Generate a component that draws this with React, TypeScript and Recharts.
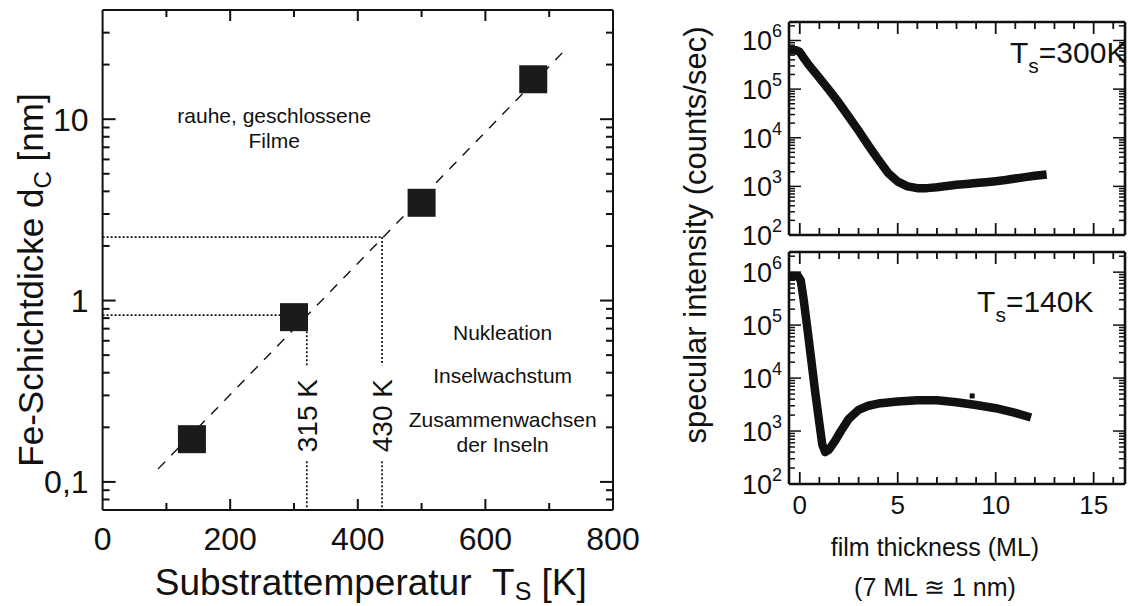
import React from 'react';
import {
  ComposedChart,
  ScatterChart,
  Scatter,
  Line,
  XAxis,
  YAxis,
  ReferenceLine,
  Label,
} from 'recharts';

const FONT = '"Liberation Sans", Arial, Helvetica, sans-serif';
const INK = '#111111';

// ---------------- left panel: critical thickness vs substrate temperature ----------------
const substrateTempK = [140, 300, 500, 675];
const criticalThicknessNm = [0.172, 0.81, 3.46, 16.6];
const fitLineTempK = [87, 723];
const fitLineThicknessNm = [0.118, 23.7];
const guideTempK = [320, 438];
const guideThicknessNm = [0.83, 2.24];
const guideLabels = ['315 K', '430 K'];
const guideLabelThickness = 0.232;
const guideGapTop = 0.44;
const guideGapBottom = 0.13;

const leftXTicks = [0, 100, 200, 300, 400, 500, 600, 700, 800];
const leftXTickLabels = ['0', '', '200', '', '400', '', '600', '', '800'];
const leftYTicks = [0.08, 0.09, 0.1, 0.2, 0.3, 0.4, 0.5, 0.6, 0.7, 0.8, 0.9, 1, 2, 3, 4, 5, 6, 7, 8, 9, 10, 20, 30];
const leftYMajor = [0.1, 1, 10];
const leftYMajorLabels = ['0,1', '1', '10'];

const regionTexts = ['rauhe, geschlossene', 'Filme', 'Nukleation', 'Inselwachstum', 'Zusammenwachsen', 'der Inseln'];
const regionTempK = [269, 269, 627, 627, 627, 627];
const regionThickness = [10.5, 7.6, 0.67, 0.386, 0.222, 0.161];

// ---------------- right panels: specular intensity vs film thickness ----------------
const thickness300 = [-0.5, -0.2, 0, 0.25, 0.5, 1, 1.5, 2, 2.5, 3, 3.5, 4, 4.5, 5, 5.5, 6, 6.5, 7, 7.5, 8, 8.5, 9, 9.5, 10, 10.5, 11, 11.5, 12, 12.6];
const intensity300 = [6.3e5, 6.3e5, 5.8e5, 4.1e5, 3.0e5, 1.7e5, 9.5e4, 5.2e4, 2.7e4, 1.4e4, 7.0e3, 3.6e3, 1.9e3, 1.25e3, 1.0e3, 9.2e2, 9.2e2, 9.6e2, 1.02e3, 1.08e3, 1.12e3, 1.17e3, 1.22e3, 1.28e3, 1.35e3, 1.45e3, 1.55e3, 1.65e3, 1.75e3];
const thickness140 = [-0.5, -0.1, 0.05, 0.2, 0.4, 0.6, 0.8, 1.0, 1.15, 1.3, 1.5, 1.8, 2.1, 2.5, 3, 3.5, 4, 5, 6, 7, 8, 9, 10, 11, 11.8];
const intensity140 = [8.5e5, 8.5e5, 7e5, 3.0e5, 8e4, 2e4, 5e3, 1.4e3, 5.5e2, 4.0e2, 4.5e2, 6.5e2, 1.0e3, 1.7e3, 2.5e3, 3.0e3, 3.3e3, 3.6e3, 3.8e3, 3.8e3, 3.5e3, 3.1e3, 2.7e3, 2.2e3, 1.8e3];
const outlierThickness140 = [8.8];
const outlierIntensity140 = [4.6e3];

const rightXTicks = [0, 1, 2, 3, 4, 5, 6, 7, 8, 9, 10, 11, 12, 13, 14, 15, 16];
const rightXLabelTicks = [0, 5, 10, 15];
const rightDecades = [100, 1000, 10000, 100000, 1000000];
const rightMantissas = [2, 3, 4, 5, 6, 7, 8, 9];
const rightYTicks = [
  ...rightDecades.flatMap((d) => (d < 1000000 ? [d, ...rightMantissas.map((m) => m * d)] : [d, 2 * d])),
];
const rightYDomain = [100, 2.4e6];
const rightYTitle = 'specular intensity (counts/sec)';
const panelTitles = ['300K', '140K'];
const panelTitleThickness = [10.73, 9.05];
const panelTitleIntensity = [3.5e5, 1.78e5];

const leftPoints = substrateTempK.map((x, i) => ({ x, y: criticalThicknessNm[i] }));
const leftNotes = regionTexts.map((t, i) => ({ x: regionTempK[i], y: regionThickness[i], t }));
const guideNotes = guideLabels.map((t, i) => ({ x: guideTempK[i], y: guideLabelThickness, t }));
const data300 = thickness300.map((x, i) => ({ x, y: intensity300[i] }));
const data140 = thickness140.map((x, i) => ({ x, y: intensity140[i] }));
const outliers140 = outlierThickness140.map((x, i) => ({ x, y: outlierIntensity140[i] }));
const title300 = [{ x: panelTitleThickness[0], y: panelTitleIntensity[0], t: panelTitles[0] }];
const title140 = [{ x: panelTitleThickness[1], y: panelTitleIntensity[1], t: panelTitles[1] }];

// ---------------- helpers ----------------
const isDecade = (v: number) => Math.abs(Math.log10(v) - Math.round(Math.log10(v))) < 1e-9;

type Side = 'bottom' | 'top' | 'left' | 'right';
function makeTick(side: Side, len: (v: number) => number, width: number, label?: (v: number, x: number, y: number) => React.ReactNode) {
  return function Tick(props: any) {
    const x = Number(props.x);
    const y = Number(props.y);
    const v = Number(props.payload.value);
    const L = len(v);
    let x2 = x;
    let y2 = y;
    if (side === 'bottom') y2 = y - L;
    else if (side === 'top') y2 = y + L;
    else if (side === 'left') x2 = x + L;
    else x2 = x - L;
    return (
      <g>
        {L > 0 ? <path d={`M${x},${y}L${x2},${y2}`} stroke={INK} strokeWidth={width} fill="none" /> : null}
        {label ? label(v, x, y) : null}
      </g>
    );
  };
}

const leftXLen = (v: number) => (v <= 0 || v >= 800 ? 0 : v % 200 === 0 ? 11 : 7);
const leftYLen = (v: number) => (isDecade(v) ? 13 : 7);
const leftXLabel = (v: number, x: number, y: number) => {
  const i = leftXTicks.indexOf(v);
  const s = i >= 0 ? leftXTickLabels[i] : '';
  return s ? (
    <text x={x} y={y + 40} textAnchor="middle" fontSize={32} fontFamily={FONT} fill={INK}>
      {s}
    </text>
  ) : null;
};
const leftYLabel = (v: number, x: number, y: number) => {
  const i = leftYMajor.findIndex((m) => Math.abs(m - v) < 1e-9);
  return i >= 0 ? (
    <text x={x - 14} y={y + 11.5} textAnchor="end" fontSize={32} fontFamily={FONT} fill={INK}>
      {leftYMajorLabels[i]}
    </text>
  ) : null;
};

const rightXLen = (v: number) => (v % 5 === 0 ? 12 : 7);
const rightYLen = (v: number) => (isDecade(v) ? (v <= 100 ? 0 : 12) : 6);
const rightYLabel = (v: number, x: number, y: number) =>
  isDecade(v) ? (
    <text x={x - 7} y={y + 10} textAnchor="end" fontSize={27} fontFamily={FONT} fill={INK}>
      10
      <tspan dy={-13} fontSize={18}>
        {String(Math.round(Math.log10(v)))}
      </tspan>
    </text>
  ) : null;
const rightXLabel = (v: number, x: number, y: number) =>
  rightXLabelTicks.includes(v) ? (
    <text x={x} y={y + 30} textAnchor="middle" fontSize={26} fontFamily={FONT} fill={INK}>
      {String(v)}
    </text>
  ) : null;

const squareShape = (p: any) => <rect x={p.cx - 14} y={p.cy - 14} width={28} height={28} fill="#1b1b1b" />;
const noteShape = (fontSize: number) => (p: any) => (
  <text x={p.cx} y={p.cy + fontSize * 0.36} textAnchor="middle" fontSize={fontSize} fontFamily={FONT} fill={INK}>
    {p.payload.t}
  </text>
);
const rotatedShape = (p: any) => (
  <text
    x={p.cx + 10}
    y={p.cy}
    transform={`rotate(-90, ${p.cx + 10}, ${p.cy})`}
    textAnchor="middle"
    fontSize={28}
    fontFamily={FONT}
    fill={INK}
  >
    {p.payload.t}
  </text>
);
const panelTitleShape = (p: any) => (
  <text x={p.cx} y={p.cy} textAnchor="start" fontSize={30} fontFamily={FONT} fill={INK}>
    T
    <tspan dy={10} fontSize={21}>
      s
    </tspan>
    <tspan dy={-10}>{'=' + p.payload.t}</tspan>
  </text>
);
const outlierShape = (p: any) => <rect x={p.cx - 2.5} y={p.cy - 2.5} width={5} height={5} fill={INK} />;

const LeftXTitle = (props: any) => {
  const vb = props.viewBox || { x: 102.6, y: 510, width: 510, height: 96 };
  return (
    <text x={vb.x + vb.width / 2 + 13} y={595} textAnchor="middle" fontSize={37} fontFamily={FONT} fill={INK}>
      {'Substrattemperatur\u00a0\u00a0T'}
      <tspan dy={5} fontSize={25}>
        S
      </tspan>
      <tspan dy={-5}>{'\u00a0[K]'}</tspan>
    </text>
  );
};
const LeftYTitle = (props: any) => {
  const vb = props.viewBox || { x: 0, y: 10, width: 102.6, height: 500 };
  const cx = 43;
  const cy = vb.y + vb.height / 2 + 20;
  return (
    <text x={cx} y={cy} transform={`rotate(-90, ${cx}, ${cy})`} textAnchor="middle" fontSize={35} fontFamily={FONT} fill={INK}>
      {'Fe-Schichtdicke d'}
      <tspan dy={8} fontSize={24}>
        C
      </tspan>
      <tspan dy={-8}>{'\u00a0[nm]'}</tspan>
    </text>
  );
};
const RightXTitle = (props: any) => {
  const vb = props.viewBox || { x: 109, y: 484, width: 336, height: 122 };
  const cx = vb.x + 146;
  return (
    <g>
      <text x={cx} y={vb.y + 72} textAnchor="middle" fontSize={25} fontFamily={FONT} fill={INK}>
        film thickness (ML)
      </text>
      <text x={cx} y={vb.y + 112} textAnchor="middle" fontSize={25} fontFamily={FONT} fill={INK}>
        {'(7 ML \u224A 1 nm)'}
      </text>
    </g>
  );
};

const frameL = { stroke: INK, strokeWidth: 2 };
const frameR = { stroke: INK, strokeWidth: 2.6 };

function LeftChart() {
  return (
    <ScatterChart width={640} height={606} margin={{ top: 9, right: 26, bottom: 0, left: 0 }}>
      <XAxis
        xAxisId="b"
        type="number"
        dataKey="x"
        domain={[0, 800]}
        ticks={leftXTicks}
        interval={0}
        orientation="bottom"
        height={96}
        tickSize={0}
        tickMargin={0}
        allowDataOverflow
        axisLine={frameL}
        tick={makeTick('bottom', leftXLen, 2, leftXLabel)}
      >
        <Label content={LeftXTitle} />
      </XAxis>
      <XAxis
        xAxisId="t"
        type="number"
        dataKey="x"
        domain={[0, 800]}
        ticks={leftXTicks}
        interval={0}
        orientation="top"
        height={1}
        tickSize={0}
        tickMargin={0}
        allowDataOverflow
        axisLine={frameL}
        tick={makeTick('top', leftXLen, 2)}
      />
      <YAxis
        yAxisId="l"
        type="number"
        dataKey="y"
        scale="log"
        domain={[0.07, 40]}
        ticks={leftYTicks}
        interval={0}
        width={102.6}
        tickSize={0}
        tickMargin={0}
        allowDataOverflow
        axisLine={frameL}
        tick={makeTick('left', leftYLen, 2, leftYLabel)}
      >
        <Label content={LeftYTitle} />
      </YAxis>
      <YAxis
        yAxisId="r"
        orientation="right"
        type="number"
        dataKey="y"
        scale="log"
        domain={[0.07, 40]}
        ticks={leftYTicks}
        interval={0}
        width={1}
        tickSize={0}
        tickMargin={0}
        allowDataOverflow
        axisLine={frameL}
        tick={makeTick('right', leftYLen, 2)}
      />
      <ReferenceLine
        xAxisId="b"
        yAxisId="l"
        segment={[
          { x: fitLineTempK[0], y: fitLineThicknessNm[0] },
          { x: fitLineTempK[1], y: fitLineThicknessNm[1] },
        ]}
        stroke={INK}
        strokeWidth={1.4}
        strokeDasharray="10 9"
      />
      {guideTempK.map((gx, i) => (
        <ReferenceLine
          key={'h' + i}
          xAxisId="b"
          yAxisId="l"
          segment={[
            { x: 0, y: guideThicknessNm[i] },
            { x: gx, y: guideThicknessNm[i] },
          ]}
          stroke={INK}
          strokeWidth={1.7}
          strokeDasharray="2 2"
        />
      ))}
      {guideTempK.map((gx, i) => (
        <ReferenceLine
          key={'v1' + i}
          xAxisId="b"
          yAxisId="l"
          segment={[
            { x: gx, y: guideThicknessNm[i] },
            { x: gx, y: guideGapTop },
          ]}
          stroke={INK}
          strokeWidth={1.7}
          strokeDasharray="2 2"
        />
      ))}
      {guideTempK.map((gx, i) => (
        <ReferenceLine
          key={'v2' + i}
          xAxisId="b"
          yAxisId="l"
          segment={[
            { x: gx, y: guideGapBottom },
            { x: gx, y: 0.07 },
          ]}
          stroke={INK}
          strokeWidth={1.7}
          strokeDasharray="2 2"
        />
      ))}
      <Scatter xAxisId="b" yAxisId="l" data={leftPoints} shape={squareShape} isAnimationActive={false} />
      <Scatter xAxisId="b" yAxisId="l" data={leftNotes} shape={noteShape(21)} isAnimationActive={false} />
      <Scatter xAxisId="b" yAxisId="l" data={guideNotes} shape={rotatedShape} isAnimationActive={false} />
    </ScatterChart>
  );
}

function RightPanel(props: { data: any[]; top: number; bottomMargin: number; xHeight: number; lower: boolean; title: any[] }) {
  const { data, top, bottomMargin, xHeight, lower, title } = props;
  return (
    <ComposedChart width={448} height={606} data={data} margin={{ top, right: 2, bottom: bottomMargin, left: 0 }}>
      <XAxis
        xAxisId="b"
        type="number"
        dataKey="x"
        domain={[-0.55, 16.6]}
        ticks={rightXTicks}
        interval={0}
        orientation="bottom"
        height={xHeight}
        tickSize={0}
        tickMargin={0}
        allowDataOverflow
        axisLine={frameR}
        tick={makeTick('bottom', rightXLen, 1.8, lower ? rightXLabel : undefined)}
      >
        {lower ? <Label content={RightXTitle} /> : null}
      </XAxis>
      <XAxis
        xAxisId="t"
        type="number"
        dataKey="x"
        domain={[-0.55, 16.6]}
        ticks={rightXTicks}
        interval={0}
        orientation="top"
        height={1}
        tickSize={0}
        tickMargin={0}
        allowDataOverflow
        axisLine={frameR}
        tick={makeTick('top', rightXLen, 1.8)}
      />
      <YAxis
        yAxisId="l"
        type="number"
        dataKey="y"
        scale="log"
        domain={rightYDomain}
        ticks={rightYTicks}
        interval={0}
        width={109}
        tickSize={0}
        tickMargin={0}
        allowDataOverflow
        axisLine={frameR}
        tick={makeTick('left', rightYLen, 1.5, rightYLabel)}
      />
      <YAxis
        yAxisId="r"
        orientation="right"
        type="number"
        dataKey="y"
        scale="log"
        domain={rightYDomain}
        ticks={rightYTicks}
        interval={0}
        width={1}
        tickSize={0}
        tickMargin={0}
        allowDataOverflow
        axisLine={frameR}
        tick={makeTick('right', rightYLen, 1.5)}
      />
      <Line
        xAxisId="b"
        yAxisId="l"
        dataKey="y"
        type="linear"
        stroke={INK}
        strokeWidth={8.5}
        strokeLinejoin="round"
        strokeLinecap="butt"
        dot={false}
        isAnimationActive={false}
      />
      {lower ? (
        <Scatter xAxisId="b" yAxisId="l" data={outliers140} shape={outlierShape} isAnimationActive={false} />
      ) : null}
      <Scatter xAxisId="b" yAxisId="l" data={title} shape={panelTitleShape} isAnimationActive={false} />
    </ComposedChart>
  );
}

export default function App() {
  return (
    <div style={{ position: 'relative', width: 1128, height: 606, background: '#ffffff', fontFamily: FONT, overflow: 'hidden' }}>
      <style>{'body{margin:0;}'}</style>
      <div style={{ position: 'absolute', left: 0, top: 0 }}>
        <LeftChart />
      </div>
      <div style={{ position: 'absolute', left: 680, top: 0 }}>
        <RightPanel data={data300} top={21} bottomMargin={370} xHeight={1} lower={false} title={title300} />
      </div>
      <div style={{ position: 'absolute', left: 680, top: 0 }}>
        <RightPanel data={data140} top={251} bottomMargin={0} xHeight={122} lower={true} title={title140} />
      </div>
      <svg
        width={44}
        height={470}
        style={{ position: 'absolute', left: 672, top: 0, overflow: 'visible' }}
      >
        <text
          x={34}
          y={235}
          transform="rotate(-90, 34, 235)"
          textAnchor="middle"
          fontSize={31}
          fontFamily={FONT}
          fill={INK}
        >
          {rightYTitle}
        </text>
      </svg>
    </div>
  );
}
